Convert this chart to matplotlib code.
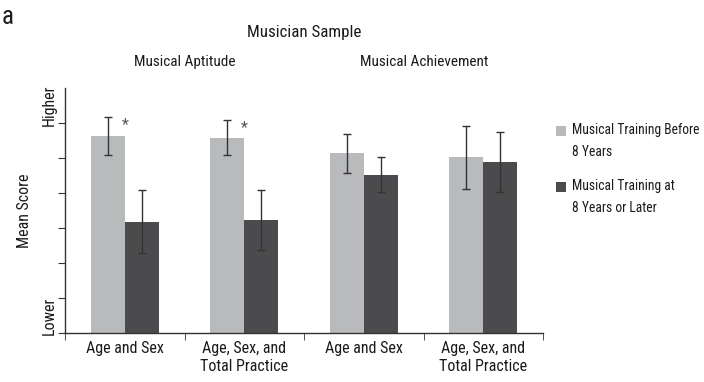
import matplotlib
matplotlib.use("Agg")
import matplotlib.pyplot as plt
from matplotlib.patches import Rectangle
import numpy as np

plt.rcParams['font.family'] = ['Roboto Condensed', 'Archivo Narrow', 'DejaVu Sans']

categories = ["Age and Sex", "Age, Sex, and\nTotal Practice", "Age and Sex", "Age, Sex, and\nTotal Practice"]
before_mean = [5.63, 5.58, 5.13, 5.02]
before_err = [0.55, 0.50, 0.55, 0.90]
later_mean = [3.18, 3.23, 4.52, 4.89]
later_err = [0.90, 0.86, 0.50, 0.85]
significant = [True, True, False, False]
series_names = ["Musical Training Before\n8 Years", "Musical Training at\n8 Years or Later"]

light = "#b9babc"
dark = "#4b4b4d"
axis_col = "#333333"
text_col = "#1a1a1a"

fig = plt.figure(figsize=(7.04, 3.82), dpi=100)
ax = fig.add_axes([65 / 704, 1 - 333 / 382, (543 - 65) / 704, (333 - 88) / 382])

x = np.arange(len(categories))
w = 0.285
ax.bar(x - w / 2, before_mean, w, color=light)
ax.bar(x + w / 2, later_mean, w, color=dark)
ax.errorbar(x - w / 2, before_mean, yerr=before_err, fmt='none', ecolor=axis_col, elinewidth=1, capsize=3)
ax.errorbar(x + w / 2, later_mean, yerr=later_err, fmt='none', ecolor=axis_col, elinewidth=1, capsize=3)

for i, sig in enumerate(significant):
    if sig:
        ax.text(x[i] + 0.0, before_mean[i] + before_err[i] - 0.22, "*", fontsize=11.5,
                color="#555555", ha="center", va="center")

ax.set_xlim(-0.5, 3.5)
ax.set_ylim(0, 7)
for s in ["top", "right"]:
    ax.spines[s].set_visible(False)
for s in ["left", "bottom"]:
    ax.spines[s].set_color(axis_col)
    ax.spines[s].set_linewidth(1)

ax.set_xticks(x)
ax.set_xticklabels(categories, fontsize=11.5, linespacing=1.25, color=text_col)
ax.tick_params(axis='x', length=0, pad=6)
ax.set_xticks(np.arange(-0.5, 4.0, 1.0), minor=True)
ax.tick_params(axis='x', which='minor', length=5, color=axis_col)

ax.set_yticks(np.arange(0, 7, 1))
ax.set_yticklabels([])
ax.tick_params(axis='y', length=5, color=axis_col)
ax.text(-0.033, 6.5, "Higher", transform=ax.get_yaxis_transform(), rotation=90,
        ha="center", va="center", fontsize=11.5, color=text_col)
ax.text(-0.033, 0.5, "Lower", transform=ax.get_yaxis_transform(), rotation=90,
        ha="center", va="center", fontsize=11.5, color=text_col)
ax.set_ylabel("Mean Score", fontsize=11.5, labelpad=15, color=text_col)

fig.text(304 / 704, 1 - 32 / 382, "Musician Sample", ha="center", va="center", fontsize=12.2, color=text_col)
fig.text(185 / 704, 1 - 62 / 382, "Musical Aptitude", ha="center", va="center", fontsize=11, color=text_col)
fig.text(424 / 704, 1 - 62 / 382, "Musical Achievement", ha="center", va="center", fontsize=11, color=text_col)
fig.text(2 / 704, 1 - 17 / 382, "a", ha="left", va="center", fontsize=18, color=text_col)

# legend drawn by hand so the square lines up with the first text line
# (va="baseline" on two-line text sits on the second line, hence the +20)
legend_baselines = [136, 192]
for base, col, name in zip(legend_baselines, [light, dark], series_names):
    fig.add_artist(Rectangle((556 / 704, 1 - base / 382), 10 / 704, 9.5 / 382,
                             transform=fig.transFigure, color=col, lw=0))
    fig.text(572 / 704, 1 - (base + 20) / 382, name, ha="left", va="baseline", fontsize=9.8,
             linespacing=1.7, color=text_col)

fig.savefig("out.png", dpi=100)
